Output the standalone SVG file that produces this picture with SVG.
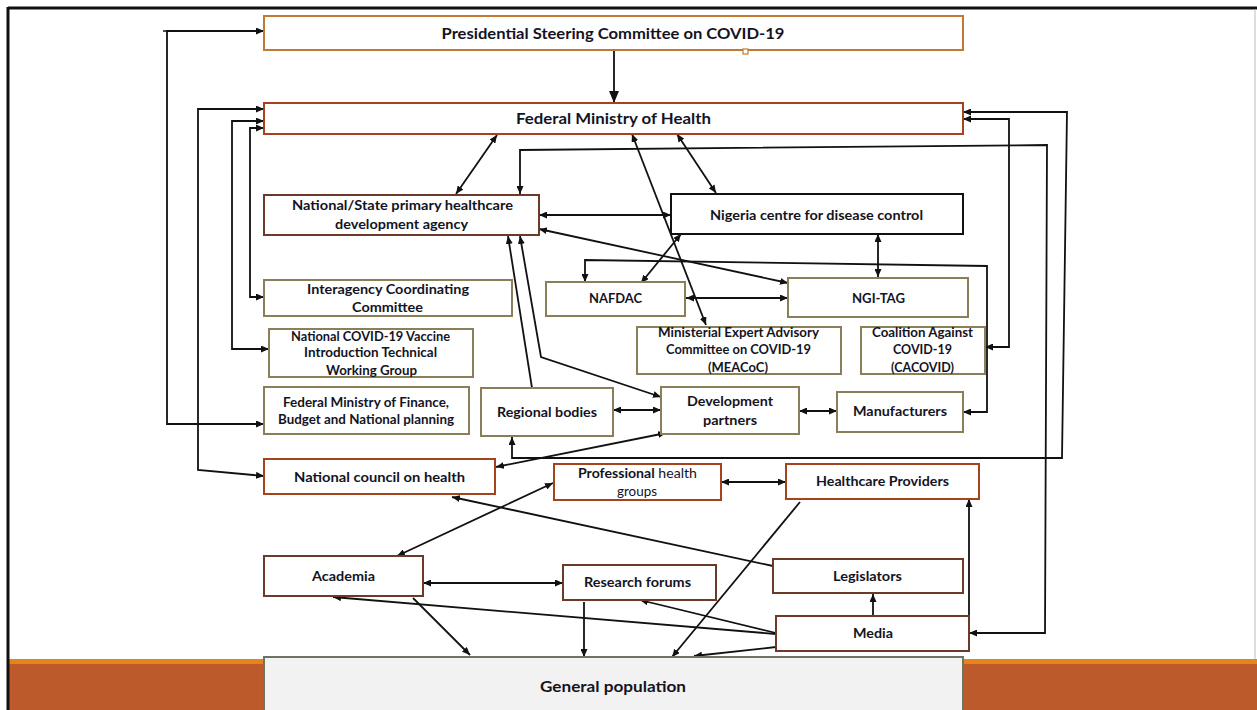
<svg xmlns="http://www.w3.org/2000/svg" width="1257" height="710" viewBox="0 0 1257 710">
<style>
.t{font-family:Lato,"Liberation Sans",sans-serif;font-weight:bold;fill:#14141f;text-anchor:middle;}
.n{font-weight:normal;}
.big{font-size:14.5px;}
.m{font-size:13px;}
.s{font-size:12.5px;}
.box{fill:#ffffff;stroke-width:2;}
.or{stroke:#c27a33;}
.rd{stroke:#a3441f;}
.br{stroke:#6b3a28;}
.bk{stroke:#111111;}
.ol{stroke:#8a7f58;}
.c{fill:none;stroke:#111111;stroke-width:1.8;stroke-linejoin:miter;}
.ba{marker-start:url(#ah);marker-end:url(#ah);}
.ea{marker-end:url(#ah);}
</style>
<defs>
<marker id="ah" viewBox="0 0 8 7" refX="8" refY="3.5" markerWidth="8" markerHeight="7" markerUnits="userSpaceOnUse" orient="auto-start-reverse">
<path d="M0,0 L8,3.5 L0,7 z" fill="#111111"/>
</marker>
<marker id="ahb" viewBox="0 0 12 10" refX="12" refY="5" markerWidth="12" markerHeight="10" markerUnits="userSpaceOnUse" orient="auto">
<path d="M0,0 L12,5 L0,10 z" fill="#111111"/>
</marker>
</defs>
<rect x="0" y="0" width="1257" height="710" fill="#ffffff"/>
<g id="background">
<rect x="9" y="659" width="1248" height="5" fill="#e3851a"/>
<rect x="9" y="664" width="1248" height="46" fill="#bc5a2c"/>
<line x1="8" y1="8" x2="1257" y2="8" stroke="#111111" stroke-width="3"/>
<line x1="8" y1="7" x2="8" y2="710" stroke="#111111" stroke-width="3"/>
<line x1="1255" y1="9" x2="1255" y2="659" stroke="#bbbbbb" stroke-width="1"/>
</g>
<g id="connectors">
<path class="c" d="M614,50 V103" stroke-width="3" marker-end="url(#ahb)"/>
<path class="c ba" d="M264,424 H167 V31 H264"/>
<line x1="163" y1="31" x2="170" y2="31" stroke="#111" stroke-width="1.5"/>
<path class="c ba" d="M264,109 H198 V470 L264,476"/>
<path class="c ba" d="M264,121 H232 V349 H269"/>
<path class="c ba" d="M264,128 H250 V297 H264"/>
<path class="c ba" d="M497,135 L456,194"/>
<path class="c ba" d="M677,134 L716,193"/>
<path class="c ba" d="M632,134 L706,325"/>
<path class="c ba" d="M520,194 V150 L1047,145 L1045,633 H969"/>
<path class="c ba" d="M963,112 H1067 L1062,458 H512 V437"/>
<path class="c ba" d="M963,119 H1009 V347 H985"/>
<path class="c ba" d="M585,282 V260 L987,266 V412 H963"/>
<path class="c ba" d="M539,215 H671"/>
<path class="c ba" d="M539,229 L788,283"/>
<path class="c ba" d="M681,234 L641,283"/>
<path class="c ba" d="M878,234 V277"/>
<path class="c ba" d="M686,298 H788"/>
<path class="c ea" d="M532,388 L508,236"/>
<path class="c ba" d="M520,236 L541,357 L661,397"/>
<path class="c ba" d="M613,410 H661"/>
<path class="c ba" d="M799,411 H837"/>
<path class="c ba" d="M666,433 L496,467"/>
<path class="c ba" d="M553,483 L397,556"/>
<path class="c ba" d="M721,482 H786"/>
<path class="c ea" d="M773,566 L452,497"/>
<path class="c ea" d="M800,502 L672,657"/>
<path class="c ba" d="M423,583 H563"/>
<path class="c ea" d="M776,634 L333,597"/>
<path class="c ea" d="M776,633 L640,600"/>
<path class="c ea" d="M776,647 L694,656"/>
<path class="c ea" d="M873,615 V594"/>
<path class="c ea" d="M969,616 V499"/>
<path class="c ea" d="M413,598 L470,655"/>
<path class="c ea" d="M584,602 V657"/>
</g>
<g id="psc">
<rect class="box or" x="264" y="16" width="699" height="34"/>
<rect x="743" y="49" width="5" height="5" fill="#fff" stroke="#c27a33" stroke-width="1.2"/>
<text class="t big" x="613" y="39" textLength="343" lengthAdjust="spacingAndGlyphs">Presidential Steering Committee on COVID-19</text>
</g>
<g id="fmh">
<rect class="box rd" x="264" y="103" width="699" height="31"/>
<text class="t big" x="613.5" y="124" textLength="195" lengthAdjust="spacingAndGlyphs">Federal Ministry of Health</text>
</g>
<g id="nsphcda">
<rect class="box br" x="264" y="195" width="275" height="40"/>
<text class="t m" x="402.5" y="210" textLength="221" lengthAdjust="spacingAndGlyphs">National/State primary healthcare</text>
<text class="t m" x="401.5" y="229" textLength="133" lengthAdjust="spacingAndGlyphs">development agency</text>
</g>
<g id="ncdc">
<rect class="box bk" x="671" y="194" width="292" height="40"/>
<text class="t m" x="816.5" y="220" textLength="213" lengthAdjust="spacingAndGlyphs">Nigeria centre for disease control</text>
</g>
<g id="icc">
<rect class="box ol" x="264" y="280" width="248" height="36"/>
<text class="t m" x="388" y="294" textLength="162" lengthAdjust="spacingAndGlyphs">Interagency Coordinating</text>
<text class="t m" x="387.5" y="312" textLength="71" lengthAdjust="spacingAndGlyphs">Committee</text>
</g>
<g id="ncvitwg">
<rect class="box ol" x="269" y="329" width="204" height="48"/>
<text class="t s" x="370.5" y="341" textLength="159" lengthAdjust="spacingAndGlyphs">National COVID-19 Vaccine</text>
<text class="t s" x="370.5" y="357" textLength="133" lengthAdjust="spacingAndGlyphs">Introduction Technical</text>
<text class="t s" x="371.5" y="375" textLength="91" lengthAdjust="spacingAndGlyphs">Working Group</text>
</g>
<g id="fmf">
<rect class="box ol" x="264" y="387" width="205" height="47"/>
<text class="t s" x="366" y="407" textLength="166" lengthAdjust="spacingAndGlyphs">Federal Ministry of Finance,</text>
<text class="t s" x="366" y="424" textLength="176" lengthAdjust="spacingAndGlyphs">Budget and National planning</text>
</g>
<g id="nafdac">
<rect class="box ol" x="546" y="282" width="139" height="34"/>
<text class="t m" x="615.5" y="303" textLength="53" lengthAdjust="spacingAndGlyphs">NAFDAC</text>
</g>
<g id="ngitag">
<rect class="box ol" x="788" y="278" width="180" height="39"/>
<text class="t m" x="878.5" y="303" textLength="53" lengthAdjust="spacingAndGlyphs">NGI-TAG</text>
</g>
<g id="meacoc">
<rect class="box ol" x="637" y="327" width="204" height="47"/>
<text class="t s" x="738.5" y="337" textLength="161" lengthAdjust="spacingAndGlyphs">Ministerial Expert Advisory</text>
<text class="t s" x="738.5" y="354" textLength="145" lengthAdjust="spacingAndGlyphs">Committee on COVID-19</text>
<text class="t s" x="738" y="372" textLength="60" lengthAdjust="spacingAndGlyphs">(MEACoC)</text>
</g>
<g id="cacovid">
<rect class="box ol" x="861" y="327" width="124" height="47"/>
<text class="t s" x="922.5" y="337" textLength="101" lengthAdjust="spacingAndGlyphs">Coalition Against</text>
<text class="t s" x="922.5" y="354" textLength="59" lengthAdjust="spacingAndGlyphs">COVID-19</text>
<text class="t s" x="922.5" y="372" textLength="63" lengthAdjust="spacingAndGlyphs">(CACOVID)</text>
</g>
<g id="regional">
<rect class="box ol" x="481" y="388" width="132" height="48"/>
<text class="t m" x="547" y="417" textLength="100" lengthAdjust="spacingAndGlyphs">Regional bodies</text>
</g>
<g id="devpartners">
<rect class="box ol" x="661" y="387" width="138" height="47"/>
<text class="t m" x="730" y="406" textLength="86" lengthAdjust="spacingAndGlyphs">Development</text>
<text class="t m" x="730" y="425" textLength="54" lengthAdjust="spacingAndGlyphs">partners</text>
</g>
<g id="manufacturers">
<rect class="box ol" x="837" y="392" width="126" height="40"/>
<text class="t m" x="900" y="416" textLength="94" lengthAdjust="spacingAndGlyphs">Manufacturers</text>
</g>
<g id="nch">
<rect class="box rd" x="264" y="459" width="231" height="35"/>
<text class="t m" x="379.5" y="482" textLength="171" lengthAdjust="spacingAndGlyphs">National council on health</text>
</g>
<g id="professional">
<rect class="box rd" x="554" y="464" width="167" height="36"/>
<text class="t s" x="637.5" y="478" textLength="119" lengthAdjust="spacingAndGlyphs">Professional<tspan class="n"> health</tspan></text>
<text class="t s n" x="637" y="496" textLength="40" lengthAdjust="spacingAndGlyphs">groups</text>
</g>
<g id="hp">
<rect class="box rd" x="786" y="464" width="193" height="35"/>
<text class="t m" x="882.5" y="486" textLength="133" lengthAdjust="spacingAndGlyphs">Healthcare Providers</text>
</g>
<g id="academia">
<rect class="box br" x="264" y="556" width="159" height="40"/>
<text class="t m" x="343.5" y="581" textLength="63" lengthAdjust="spacingAndGlyphs">Academia</text>
</g>
<g id="research">
<rect class="box br" x="563" y="565" width="153" height="35"/>
<text class="t m" x="637.5" y="587" textLength="107" lengthAdjust="spacingAndGlyphs">Research forums</text>
</g>
<g id="legislators">
<rect class="box br" x="773" y="559" width="190" height="34"/>
<text class="t m" x="867.5" y="581" textLength="69" lengthAdjust="spacingAndGlyphs">Legislators</text>
</g>
<g id="media">
<rect class="box br" x="776" y="616" width="193" height="35"/>
<text class="t m" x="873" y="638" textLength="40" lengthAdjust="spacingAndGlyphs">Media</text>
</g>
<g id="genpop">
<rect x="264" y="657" width="699" height="60" fill="#f2f2f2" stroke="#6e7464" stroke-width="2"/>
<text class="t big" x="613" y="692" textLength="146" lengthAdjust="spacingAndGlyphs">General population</text>
</g>
</svg>
